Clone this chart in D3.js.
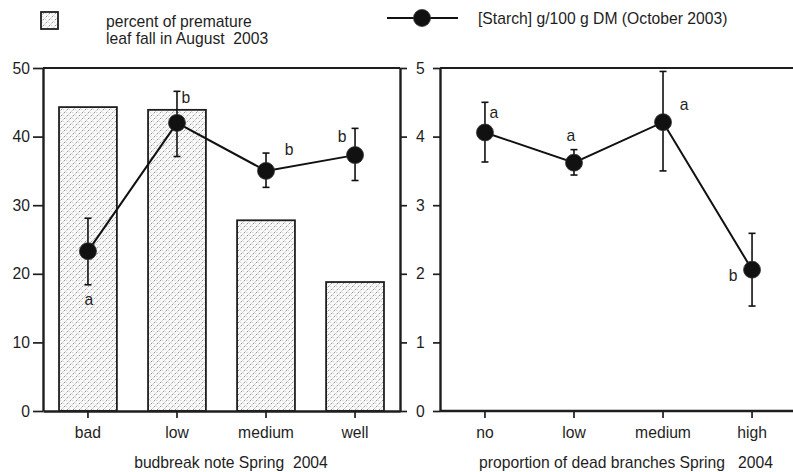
<!DOCTYPE html>
<html>
<head>
<meta charset="utf-8">
<script src="https://cdn.jsdelivr.net/npm/d3@7/dist/d3.min.js"></script>
<style>
  body { margin: 0; background: #fff; }
  svg { display: block; font-family: "Liberation Sans", Arial, sans-serif; }
</style>
</head>
<body>
<svg id="chart" width="793" height="472"></svg>
<script>
// ---- data ----
const leftCategories = ["bad", "low", "medium", "well"];
const leafFallPercent = [44.3, 43.9, 27.8, 18.8];
const starchLeft = [2.33, 4.2, 3.5, 3.73];
const starchLeftLow = [1.84, 3.71, 3.26, 3.36];
const starchLeftHigh = [2.81, 4.66, 3.76, 4.12];
const lettersLeft = ["a", "b", "b", "b"];

const rightCategories = ["no", "low", "medium", "high"];
const starchRight = [4.06, 3.62, 4.21, 2.06];
const starchRightLow = [3.63, 3.44, 3.5, 1.53];
const starchRightHigh = [4.5, 3.81, 4.95, 2.59];
const lettersRight = ["a", "a", "a", "b"];

const leftTicks = [0, 10, 20, 30, 40, 50];
const starchTicks = [0, 1, 2, 3, 4, 5];
const leftTitle = "budbreak note Spring  2004";
const rightTitle = "proportion of dead branches Spring   2004";
const legendBarText = ["percent of premature", "leaf fall in August  2003"];
const legendLineText = "[Starch] g/100 g DM (October 2003)";

// ---- layout ----
const svg = d3.select("#chart");
const yTop = 68, yBottom = 411;
const L = { x0: 43, x1: 400 };
const R = { x0: 440, x1: 797 };
const FS = 15.7;
const INK = "#1e1e1e";

const yPct = d3.scaleLinear().domain([0, 50]).range([yBottom, yTop]);
const yStarch = d3.scaleLinear().domain([0, 5]).range([yBottom, yTop]);
const xL = d3.scaleBand().domain(leftCategories).range([L.x0, L.x1]).paddingInner(0.35).paddingOuter(0.18);
const xR = d3.scaleBand().domain(rightCategories).range([R.x0, R.x1]).paddingInner(0.35).paddingOuter(0.18);

// pattern (fine dashed weave)
const defs = svg.append("defs");
const pat = defs.append("pattern").attr("id", "hatch").attr("patternUnits", "userSpaceOnUse")
  .attr("width", 6).attr("height", 6);
pat.append("rect").attr("width", 6).attr("height", 6).attr("fill", "#fafafa");
pat.append("path").attr("d", "M0.6,2.4 l1.8,-1.8 M3.6,5.4 l1.8,-1.8")
  .attr("stroke", "#707070").attr("stroke-width", 0.75).attr("fill", "none");
pat.append("path").attr("d", "M3.4,1.2 l0.9,0.9 M0.4,4.2 l0.9,0.9")
  .attr("stroke", "#9a9a9a").attr("stroke-width", 0.6).attr("fill", "none");

// ---- bars ----
svg.append("g").selectAll("rect").data(leafFallPercent).join("rect")
  .attr("x", (d, i) => xL(leftCategories[i]))
  .attr("y", d => yPct(d))
  .attr("width", xL.bandwidth())
  .attr("height", d => yPct(0) - yPct(d))
  .attr("fill", "url(#hatch)")
  .attr("stroke", INK).attr("stroke-width", 1.8);

// ---- frames ----
const frame = svg.append("g").attr("stroke", INK).attr("fill", "none");
frame.append("line").attr("x1", L.x0).attr("x2", L.x1).attr("y1", yTop).attr("y2", yTop).attr("stroke-width", 1.8);
frame.append("line").attr("x1", R.x0).attr("x2", 793).attr("y1", yTop).attr("y2", yTop).attr("stroke-width", 1.8);

// axes
function styleAxis(g) {
  g.selectAll(".domain").attr("stroke", INK).attr("stroke-width", 2.4);
  g.selectAll(".tick line").attr("stroke", INK).attr("stroke-width", 1.7);
  g.selectAll(".tick text").attr("fill", INK).attr("font-size", FS).attr("font-family", "Liberation Sans, Arial, sans-serif");
}
svg.append("g").attr("transform", `translate(${L.x0},0)`)
  .call(d3.axisLeft(yPct).tickValues(leftTicks).tickSize(10).tickSizeOuter(0).tickPadding(3))
  .call(styleAxis);
svg.append("g").attr("transform", `translate(${L.x1},0)`)
  .call(d3.axisRight(yStarch).tickValues(starchTicks).tickSize(7).tickSizeOuter(0).tickPadding(9).tickFormat(d3.format("d")))
  .call(styleAxis);
svg.append("g").attr("transform", `translate(${R.x0},0)`)
  .call(d3.axisLeft(yStarch).tickValues(starchTicks).tickSize(7).tickSizeOuter(0).tickFormat(""))
  .call(styleAxis);
svg.append("g").attr("transform", `translate(0,${yBottom})`)
  .call(d3.axisBottom(xL).tickSize(7).tickSizeOuter(0).tickPadding(9))
  .call(styleAxis);
const gxR = svg.append("g").attr("transform", `translate(0,${yBottom})`)
  .call(d3.axisBottom(xR).tickSize(7).tickSizeOuter(0).tickPadding(9))
  .call(styleAxis);
gxR.select(".domain").attr("d", `M${R.x0},0H793`);

// titles
svg.append("text").attr("x", 231).attr("y", 468).attr("text-anchor", "middle")
  .attr("font-size", FS).attr("fill", INK).style("white-space", "pre").text(leftTitle);
svg.append("text").attr("x", 626).attr("y", 468).attr("text-anchor", "middle")
  .attr("font-size", FS).attr("fill", INK).style("white-space", "pre").text(rightTitle);

// ---- starch series ----
function drawSeries(x, cats, vals, lo, hi, letters, offsets) {
  const g = svg.append("g");
  const cx = i => x(cats[i]) + x.bandwidth() / 2;
  g.append("path").datum(vals)
    .attr("d", d3.line().x((d, i) => cx(i)).y(d => yStarch(d)))
    .attr("fill", "none").attr("stroke", "#111").attr("stroke-width", 2);
  vals.forEach((v, i) => {
    const eg = g.append("g").attr("stroke", "#111").attr("stroke-width", 1.6);
    eg.append("line").attr("x1", cx(i)).attr("x2", cx(i)).attr("y1", yStarch(lo[i])).attr("y2", yStarch(hi[i]));
    eg.append("line").attr("x1", cx(i) - 3.5).attr("x2", cx(i) + 3.5).attr("y1", yStarch(lo[i])).attr("y2", yStarch(lo[i]));
    eg.append("line").attr("x1", cx(i) - 3.5).attr("x2", cx(i) + 3.5).attr("y1", yStarch(hi[i])).attr("y2", yStarch(hi[i]));
  });
  g.selectAll("circle").data(vals).join("circle")
    .attr("cx", (d, i) => cx(i)).attr("cy", d => yStarch(d)).attr("r", 8.5)
    .attr("fill", "#111").attr("stroke", "#333").attr("stroke-width", 0.8);
  g.selectAll("text").data(letters).join("text")
    .attr("x", (d, i) => cx(i) + offsets[i][0])
    .attr("y", (d, i) => yStarch(vals[i]) + offsets[i][1])
    .attr("font-size", FS).attr("fill", INK).attr("text-anchor", "middle")
    .text(d => d);
}
drawSeries(xL, leftCategories, starchLeft, starchLeftLow, starchLeftHigh, lettersLeft,
  [[1, 54], [9, -20], [23, -16], [-13, -13]]);
drawSeries(xR, rightCategories, starchRight, starchRightLow, starchRightHigh, lettersRight,
  [[9, -14], [-3, -22], [21, -12], [-19, 11]]);

// ---- legend ----
svg.append("rect").attr("x", 41).attr("y", 12).attr("width", 17).attr("height", 17)
  .attr("fill", "url(#hatch)").attr("stroke", INK).attr("stroke-width", 1.8);
svg.append("text").attr("x", 106).attr("y", 27).attr("font-size", FS).attr("fill", INK).text(legendBarText[0]);
svg.append("text").attr("x", 106).attr("y", 44).attr("font-size", FS).attr("fill", INK).style("white-space", "pre").text(legendBarText[1]);
svg.append("line").attr("x1", 387).attr("x2", 458).attr("y1", 18).attr("y2", 18).attr("stroke", "#111").attr("stroke-width", 2);
svg.append("circle").attr("cx", 422).attr("cy", 18).attr("r", 8.5).attr("fill", "#111").attr("stroke", "#333").attr("stroke-width", 0.8);
svg.append("text").attr("x", 478).attr("y", 24).attr("font-size", FS).attr("fill", INK).text(legendLineText);
</script>
</body>
</html>
